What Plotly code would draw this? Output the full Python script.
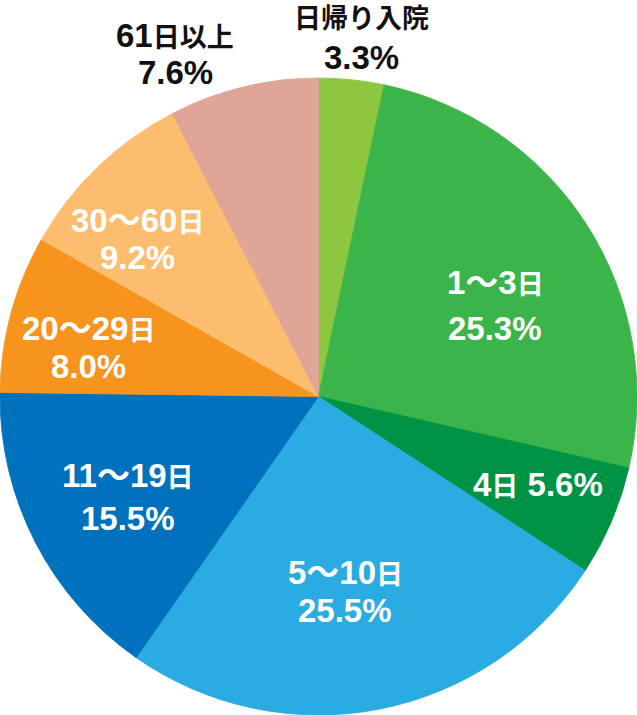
import plotly.graph_objects as go

categories = ["日帰り入院", "1〜3日", "4日", "5〜10日", "11〜19日", "20〜29日", "30〜60日", "61日以上"]
values = [3.3, 25.3, 5.6, 25.5, 15.5, 8.0, 9.2, 7.6]
colors = ["#8DC63F", "#3BB54A", "#009245", "#2AABE2", "#0071BC", "#F7941E", "#FCBE6E", "#DFA597"]

W, H = 637, 715
FONT = "Liberation Sans, Noto Sans CJK JP, sans-serif"
LATIN_SIZE = 33
CJK_SIZE = 27


def styled(text):
    out = []
    for ch in text:
        if ord(ch) > 127 and ch != "〜":
            out.append(f"<span style='font-size:{CJK_SIZE}px'>{ch}</span>")
        else:
            out.append(ch)
    return "".join(out)


fig = go.Figure(go.Pie(
    labels=categories,
    values=values,
    sort=False,
    direction="clockwise",
    rotation=0,
    marker=dict(colors=colors, line=dict(width=0.8, color=colors)),
    textinfo="none",
    hoverinfo="label+percent",
    showlegend=False,
    domain=dict(x=[0, 1], y=[0, (H - 78) / H]),
))

# label layout: (category index, x px, y px of first line, y px of second line, color, one-line?)
label_pos = [
    (0, 361, 19, 58, "#111111", False),
    (1, 495, 282, 328, "white", False),
    (2, 538, 484, None, "white", True),
    (3, 345, 572, 610, "white", False),
    (4, 128, 475, 518, "white", False),
    (5, 88, 328, 366, "white", False),
    (6, 137, 220, 258, "white", False),
    (7, 175, 35, 73, "#111111", False),
]

annotations = []
for idx, x, y1, y2, col, one in label_pos:
    pct = f"{values[idx]:.1f}%"
    if one:
        lines = [(categories[idx] + " " + pct, y1)]
    else:
        lines = [(categories[idx], y1), (pct, y2)]
    for txt, y in lines:
        annotations.append(dict(
            x=x / W, y=1 - y / H, xref="paper", yref="paper",
            text=styled(txt), showarrow=False, xanchor="center", yanchor="middle",
            font=dict(family=FONT, size=LATIN_SIZE, color=col, weight="bold"),
        ))

fig.update_layout(
    width=W, height=H,
    margin=dict(l=0, r=0, t=0, b=0),
    paper_bgcolor="white",
    plot_bgcolor="white",
    annotations=annotations,
)

fig.write_html("out.html", config={"displayModeBar": False},
               post_script="document.body.style.margin='0';")
